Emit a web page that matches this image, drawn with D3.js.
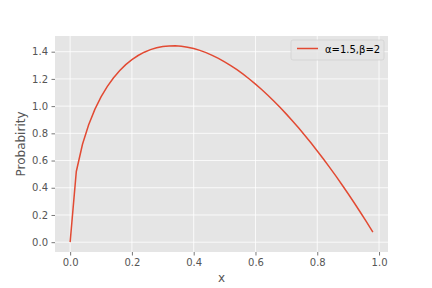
<!DOCTYPE html>
<html><head><meta charset="utf-8">
<script src="https://cdn.jsdelivr.net/npm/d3@7"></script>
<style>body{margin:0;background:#fff}svg{display:block}</style>
</head><body>
<svg id="c" width="432" height="288"></svg>
<script>
const xValues = [0,0.02,0.04,0.06,0.08,0.10,0.12,0.14,0.16,0.18,0.20,0.22,0.24,0.26,0.28,0.30,0.32,0.34,0.36,0.38,0.40,0.42,0.44,0.46,0.48,0.50,0.52,0.54,0.56,0.58,0.60,0.62,0.64,0.66,0.68,0.70,0.72,0.74,0.76,0.78,0.80,0.82,0.84,0.86,0.88,0.90,0.92,0.94,0.96,0.98];
const yValues = [0,0.5197,0.72,0.8634,0.9758,1.0673,1.1432,1.2067,1.26,1.3046,1.3416,1.3720,1.3962,1.4150,1.4287,1.4378,1.4425,1.4432,1.44,1.4332,1.4230,1.4096,1.3930,1.3734,1.3510,1.3258,1.2980,1.2676,1.2348,1.1995,1.1619,1.1221,1.08,1.0358,0.9896,0.9412,0.8910,0.8387,0.7846,0.7286,0.6708,0.6112,0.5499,0.4869,0.4221,0.3558,0.2878,0.2182,0.1470,0.0743];
const xTicks = [0.0,0.2,0.4,0.6,0.8,1.0];
const yTicks = [0.0,0.2,0.4,0.6,0.8,1.0,1.2,1.4];
const seriesLabel = "α=1.5,β=2";

const svg = d3.select("#c");
const L=55,R=388,T=36,B=252;
const xr = d3.extent(xValues), yr=d3.extent(yValues);
const xm=(xr[1]-xr[0])*0.05, ym=(yr[1]-yr[0])*0.05;
const x = d3.scaleLinear().domain([xr[0]-xm, xr[1]+xm]).range([L,R]);
const y = d3.scaleLinear().domain([yr[0]-ym, yr[1]+ym]).range([B,T]);
const font="DejaVu Sans, sans-serif";

svg.append("rect").attr("x",L).attr("y",T).attr("width",R-L).attr("height",B-T).attr("fill","#E5E5E5");
const g = svg.append("g");
g.selectAll(".gx").data(xTicks).enter().append("line")
 .attr("x1",d=>x(d)).attr("x2",d=>x(d)).attr("y1",T).attr("y2",B).attr("stroke","#fff").attr("stroke-width",0.8);
g.selectAll(".gy").data(yTicks).enter().append("line")
 .attr("y1",d=>y(d)).attr("y2",d=>y(d)).attr("x1",L).attr("x2",R).attr("stroke","#fff").attr("stroke-width",0.8);

const xAxis = svg.append("g").attr("transform",`translate(0,${B})`)
 .call(d3.axisBottom(x).tickValues(xTicks).tickFormat(d3.format(".1f")).tickSize(3.5).tickPadding(3.5));
const yAxis = svg.append("g").attr("transform",`translate(${L},0)`)
 .call(d3.axisLeft(y).tickValues(yTicks).tickFormat(d3.format(".1f")).tickSize(3.5).tickPadding(3.5));
[xAxis,yAxis].forEach(a=>{
 a.select(".domain").remove();
 a.selectAll(".tick line").attr("stroke","#555555").attr("stroke-width",0.8);
 a.selectAll(".tick text").attr("fill","#555555").attr("font-family",font).attr("font-size",10);
});

svg.append("path").datum(xValues.map((v,i)=>[v,yValues[i]]))
 .attr("d",d3.line().x(d=>x(d[0])).y(d=>y(d[1])))
 .attr("fill","none").attr("stroke","#E24A33").attr("stroke-width",1.5);

svg.append("text").attr("x",(L+R)/2).attr("y",282).attr("text-anchor","middle")
 .attr("font-family",font).attr("font-size",12).attr("fill","#555555").text("x");
svg.append("text").attr("transform",`translate(25,${(T+B)/2}) rotate(-90)`).attr("text-anchor","middle")
 .attr("font-family",font).attr("font-size",12).attr("fill","#555555").text("Probabirity");

// legend
const lg = svg.append("g");
lg.append("rect").attr("x",291).attr("y",40).attr("width",93).attr("height",20).attr("rx",2)
 .attr("fill","#E5E5E5").attr("fill-opacity",0.8).attr("stroke","#CCCCCC").attr("stroke-opacity",0.8).attr("stroke-width",0.8);
lg.append("line").attr("x1",297).attr("x2",318).attr("y1",48.5).attr("y2",48.5).attr("stroke","#E24A33").attr("stroke-width",1.5);
lg.append("text").attr("x",325).attr("y",52.5).attr("font-family",font).attr("font-size",10).attr("fill","#000").text(seriesLabel);
</script>
</body></html>
